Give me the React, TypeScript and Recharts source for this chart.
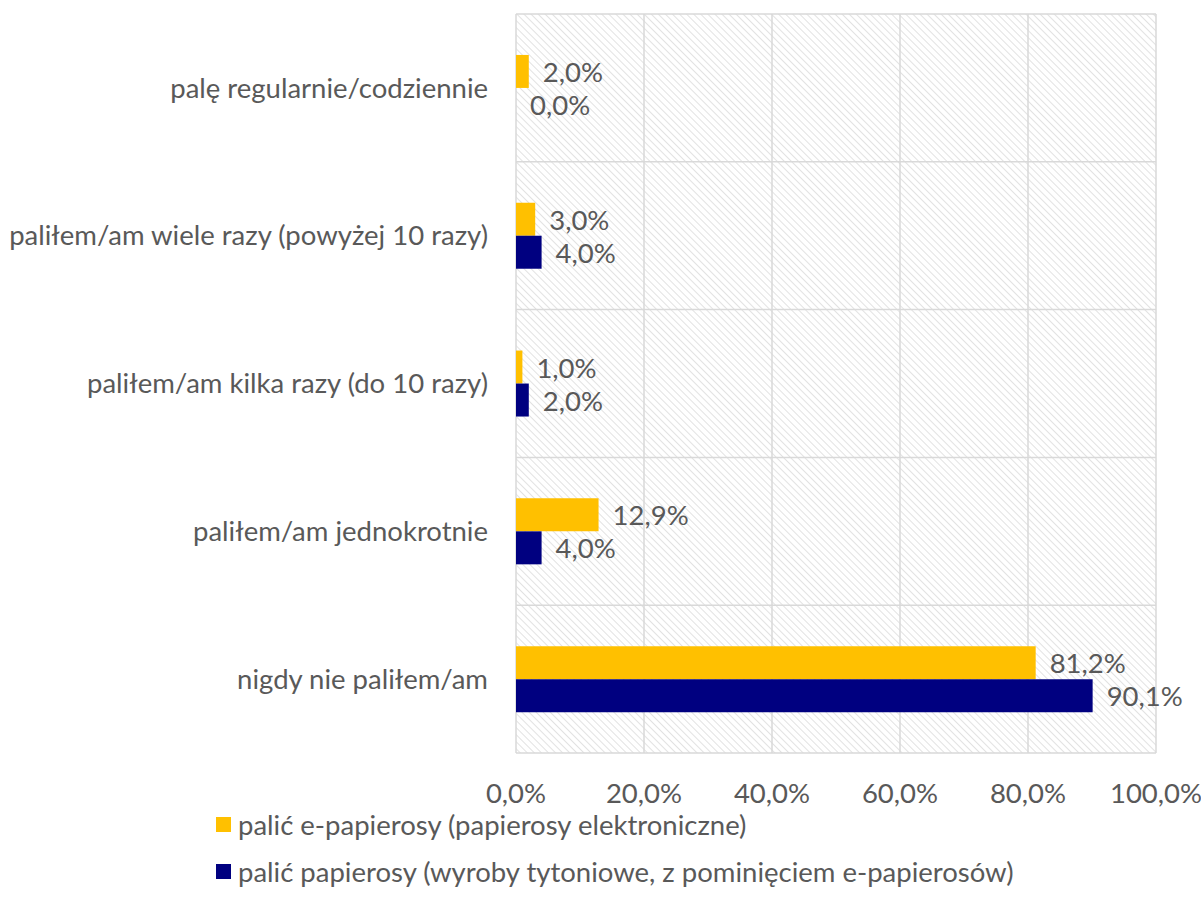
import { BarChart, Bar, XAxis, YAxis, CartesianGrid } from "recharts";

const categories = [
  "palę regularnie/codziennie",
  "paliłem/am wiele razy (powyżej 10 razy)",
  "paliłem/am kilka razy (do 10 razy)",
  "paliłem/am jednokrotnie",
  "nigdy nie paliłem/am",
];
const eCigarettes = [2.0, 3.0, 1.0, 12.9, 81.2];
const cigarettes = [0.0, 4.0, 2.0, 4.0, 90.1];
const xTicks = [0, 20, 40, 60, 80, 100];

const seriesNames = [
  "palić e-papierosy (papierosy elektroniczne)",
  "palić papierosy (wyroby tytoniowe, z pominięciem e-papierosów)",
];
const seriesColors = ["#FFC000", "#000080"];

const data = categories.map((name, i) => ({
  name,
  ecig: eCigarettes[i],
  cig: cigarettes[i],
}));

const FONT = "Lato, 'Open Sans', sans-serif";
const FS = 27.5;
const TEXT = "#595959";
const GRID = "#d9d9d9";

const pct = (v: number) => v.toFixed(1).replace(".", ",") + "%";

// draws the value to the right of the bar end, also for zero-length bars
const valueLabel = (props: any) => {
  const { x, y, width, height, value } = props;
  return (
    <text
      x={Number(x) + Number(width || 0) + 14}
      y={Number(y) + Number(height) / 2}
      dominantBaseline="central"
      fontSize={FS}
      fill={TEXT}
      fontFamily={FONT}
    >
      {pct(Number(value))}
    </text>
  );
};

// keeps zero-valued bars in the layout so their labels still show
const tinyMin = () => 0.01;

export default function App() {
  return (
    <div style={{ position: "absolute", left: 0, top: 0, width: 1201, height: 913, background: "#fff", fontFamily: FONT }}>
      <BarChart
        width={1201}
        height={913}
        data={data}
        layout="vertical"
        margin={{ top: 14, right: 45, bottom: 100, left: 0 }}
        barCategoryGap="27.7%"
        barGap={0}
      >
        <defs>
          <pattern id="hatch" width="5" height="5" patternUnits="userSpaceOnUse" patternTransform="rotate(-45)">
            <rect width="5" height="5" fill="#ffffff" />
            <line x1="0" y1="0" x2="0" y2="5" stroke="#d6d6d6" strokeWidth="1.4" />
          </pattern>
        </defs>
        <CartesianGrid
          fill="url(#hatch)"
          fillOpacity={1}
          stroke={GRID}
          strokeWidth={1.5}
          horizontalCoordinatesGenerator={({ offset }: any) =>
            categories.concat([""]).map((_, i) => offset.top + (i * offset.height) / categories.length)
          }
        />
        <XAxis
          type="number"
          domain={[0, 100]}
          ticks={xTicks}
          tickFormatter={(v: number) => pct(v)}
          axisLine={false}
          tickLine={false}
          tickSize={0}
          tickMargin={30}
          height={60}
          tick={{ fontSize: FS, fill: TEXT, fontFamily: FONT }}
        />
        <YAxis
          type="category"
          dataKey="name"
          width={516}
          axisLine={false}
          tickLine={false}
          tickSize={0}
          tickMargin={28}
          interval={0}
          tick={{ fontSize: FS, fill: TEXT, fontFamily: FONT }}
        />
        <Bar dataKey="ecig" name={seriesNames[0]} fill={seriesColors[0]} isAnimationActive={false} label={valueLabel} minPointSize={tinyMin} />
        <Bar dataKey="cig" name={seriesNames[1]} fill={seriesColors[1]} isAnimationActive={false} label={valueLabel} minPointSize={tinyMin} />
      </BarChart>
      {seriesNames.map((name, i) => (
        <div
          key={name}
          style={{
            position: "absolute",
            left: 216,
            top: 808 + i * 47,
            display: "flex",
            alignItems: "center",
            fontSize: FS,
            color: TEXT,
            whiteSpace: "nowrap",
          }}
        >
          <span style={{ display: "inline-block", width: 15, height: 15, background: seriesColors[i], marginRight: 7 }} />
          {name}
        </div>
      ))}
    </div>
  );
}
